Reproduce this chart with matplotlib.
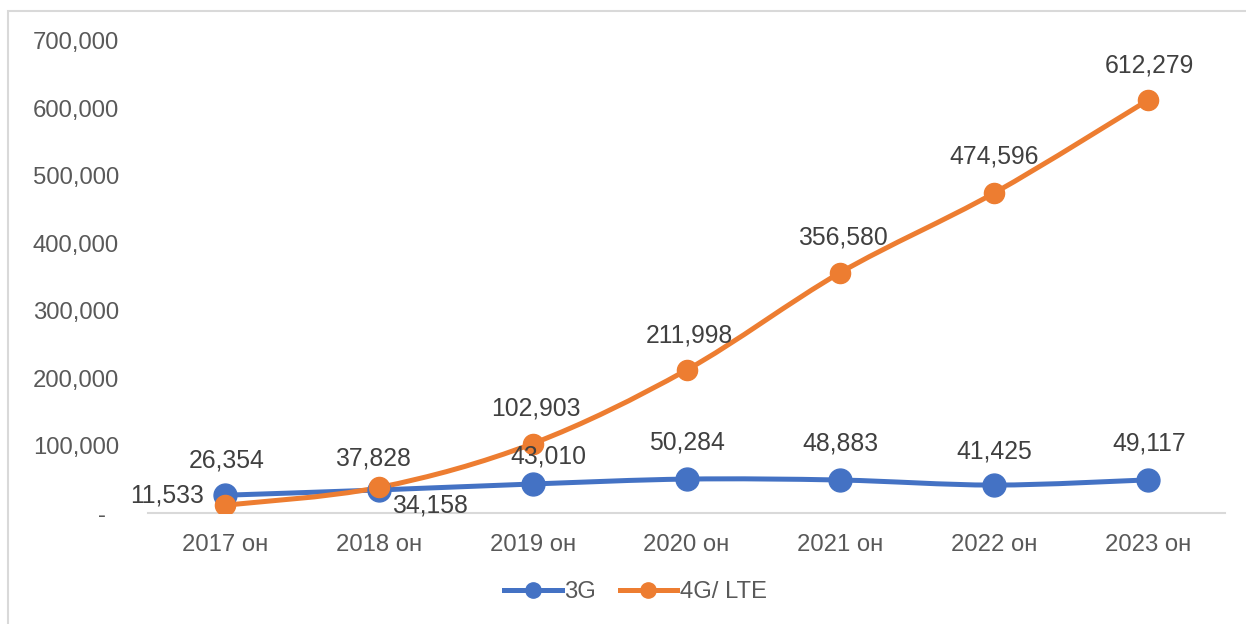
import numpy as np
import matplotlib.pyplot as plt
from matplotlib.path import Path
from matplotlib.patches import PathPatch, Rectangle
from matplotlib.lines import Line2D

plt.rcParams['font.family'] = ['Liberation Sans', 'DejaVu Sans']

# data
years = ['2017 он', '2018 он', '2019 он', '2020 он', '2021 он', '2022 он', '2023 он']
g3 = [26354, 34158, 43010, 50284, 48883, 41425, 49117]
lte = [11533, 37828, 102903, 211998, 356580, 474596, 612279]
y_ticks = [0, 100000, 200000, 300000, 400000, 500000, 600000, 700000]

# label offsets (points) relative to each marker
g3_offsets = [(1, 25), (37, -11), (11, 20), (0, 26), (0, 26), (0, 24), (1, 26)]
lte_offsets = [(-42, 7), (-4, 21), (2, 25), (2, 25), (2, 25), (0, 26), (1, 25)]

BLUE = '#4472C4'
ORANGE = '#ED7D31'


def smooth_path(xs, ys):
    # Catmull-Rom style bezier through the points, like Excel's smoothed line
    pts = np.column_stack([xs, ys]).astype(float)
    n = len(pts)
    verts = [pts[0]]
    codes = [Path.MOVETO]
    for i in range(n - 1):
        p0 = pts[i - 1] if i > 0 else pts[i]
        p1 = pts[i]
        p2 = pts[i + 1]
        p3 = pts[i + 2] if i + 2 < n else pts[i + 1]
        c1 = p1 + (p2 - p0) / 6.0
        c2 = p2 - (p3 - p1) / 6.0
        verts += [c1, c2, p2]
        codes += [Path.CURVE4] * 3
    return Path(verts, codes)


fig = plt.figure(figsize=(12.46, 6.24), dpi=100)
ax = fig.add_axes([148 / 1246, 1 - 513 / 624, (1225 - 148) / 1246, (513 - 41) / 624])

x = np.arange(len(years))

for vals, col, ms, offs in [(g3, BLUE, 16.5, g3_offsets), (lte, ORANGE, 14.5, lte_offsets)]:
    ax.add_patch(PathPatch(smooth_path(x, vals), facecolor='none', edgecolor=col,
                           lw=3.6, capstyle='round', joinstyle='round', zorder=3))
    ax.plot(x, vals, linestyle='none', marker='o', markersize=ms, color=col, zorder=4)
    for xi, v, off in zip(x, vals, offs):
        ax.annotate(f'{v:,}', (xi, v), xytext=off, textcoords='offset points',
                    ha='center', va='center', fontsize=17.8, color='#404040', zorder=5)

ax.set_xlim(-0.5, len(years) - 0.5)
ax.set_ylim(0, 700000)
ax.set_xticks(x)
ax.set_xticklabels(years)
ax.set_yticks(y_ticks)
ax.set_yticklabels(['-  '] + [f'{t:,}' for t in y_ticks[1:]])
ax.tick_params(axis='both', length=0, labelsize=17.2, labelcolor='#595959')
ax.tick_params(axis='y', pad=21)
ax.tick_params(axis='x', pad=15)

for side in ['top', 'right', 'left']:
    ax.spines[side].set_visible(False)
ax.spines['bottom'].set_color('#D9D9D9')
ax.spines['bottom'].set_linewidth(1.5)

handles = [Line2D([], [], color=BLUE, lw=3.6, marker='o', markersize=11),
           Line2D([], [], color=ORANGE, lw=3.6, marker='o', markersize=11)]
fig.legend(handles, ['3G', '4G/ LTE'], loc='center', bbox_to_anchor=(0.51, 1 - 592 / 624),
           ncol=2, frameon=False, fontsize=17.2, labelcolor='#595959',
           handlelength=2.4, handletextpad=0.1, columnspacing=1.0)

# light chart-area border (cut off at right and bottom in the reference)
fig.patches.append(Rectangle((8 / 1246, -0.1), 1.2, 1.1 - 11 / 624, transform=fig.transFigure,
                             facecolor='none', edgecolor='#D9D9D9', lw=1.5))

fig.savefig('out.png', dpi=100)
